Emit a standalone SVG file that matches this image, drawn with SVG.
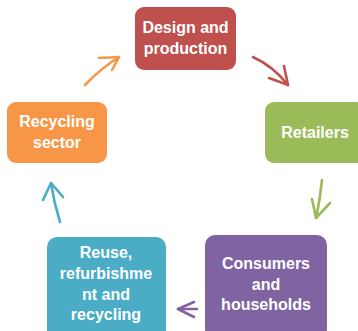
<svg xmlns="http://www.w3.org/2000/svg" width="358" height="331" viewBox="0 0 358 331">
  <style>
    .box { stroke: none; }
    .lbl { font-family: "Liberation Sans", Arial, sans-serif; font-weight: bold; font-size: 16px; fill: #ffffff; text-anchor: middle; }
    .arr { fill: none; stroke-width: 2.6; stroke-linecap: round; stroke-linejoin: round; }
  </style>
  <rect width="358" height="331" fill="#ffffff"/>

  <g id="design">
    <rect class="box" x="135" y="7" width="101" height="63" rx="9" fill="#C0504D"/>
    <text class="lbl" x="185.5" y="33">Design and</text>
    <text class="lbl" x="185.5" y="54">production</text>
  </g>

  <g id="retailers">
    <rect class="box" x="265" y="102" width="100" height="61" rx="9" fill="#9BBB59"/>
    <text class="lbl" x="315" y="138">Retailers</text>
  </g>

  <g id="consumers">
    <rect class="box" x="205" y="235" width="122" height="104" rx="10" fill="#8064A2"/>
    <text class="lbl" x="266" y="269">Consumers</text>
    <text class="lbl" x="266" y="290">and</text>
    <text class="lbl" x="266" y="310">households</text>
  </g>

  <g id="reuse">
    <rect class="box" x="47" y="237" width="119" height="104" rx="10" fill="#4BACC6"/>
    <text class="lbl" x="106" y="258">Reuse,</text>
    <text class="lbl" x="106" y="279">refurbishme</text>
    <text class="lbl" x="106" y="300">nt and</text>
    <text class="lbl" x="106" y="320">recycling</text>
  </g>

  <g id="recycling-sector">
    <rect class="box" x="7" y="102" width="100" height="61" rx="9" fill="#F79646"/>
    <text class="lbl" x="57" y="127">Recycling</text>
    <text class="lbl" x="57" y="148">sector</text>
  </g>

  <g id="connectors">
    <!-- design -> retailers -->
    <path class="arr" stroke="#C0504D" d="M253,57 Q273,66 288,85"/>
    <polyline class="arr" stroke="#C0504D" points="284,66 288,85 269,78"/>
    <!-- retailers -> consumers -->
    <path class="arr" stroke="#9BBB59" d="M322,180 Q320,200 316,218"/>
    <polyline class="arr" stroke="#9BBB59" points="312,199 316,218 330,203"/>
    <!-- consumers -> reuse -->
    <path class="arr" stroke="#8064A2" d="M197,309 L178,309"/>
    <polyline class="arr" stroke="#8064A2" points="194,302 178,309 194,317"/>
    <!-- reuse -> recycling sector -->
    <path class="arr" stroke="#4BACC6" d="M60,222 Q54,203 51,183"/>
    <polyline class="arr" stroke="#4BACC6" points="43,200 51,183 63,197"/>
    <!-- recycling sector -> design -->
    <path class="arr" stroke="#F79646" d="M85,85 Q100,69 119,57"/>
    <polyline class="arr" stroke="#F79646" points="99,58 119,57 112,70"/>
  </g>
</svg>
